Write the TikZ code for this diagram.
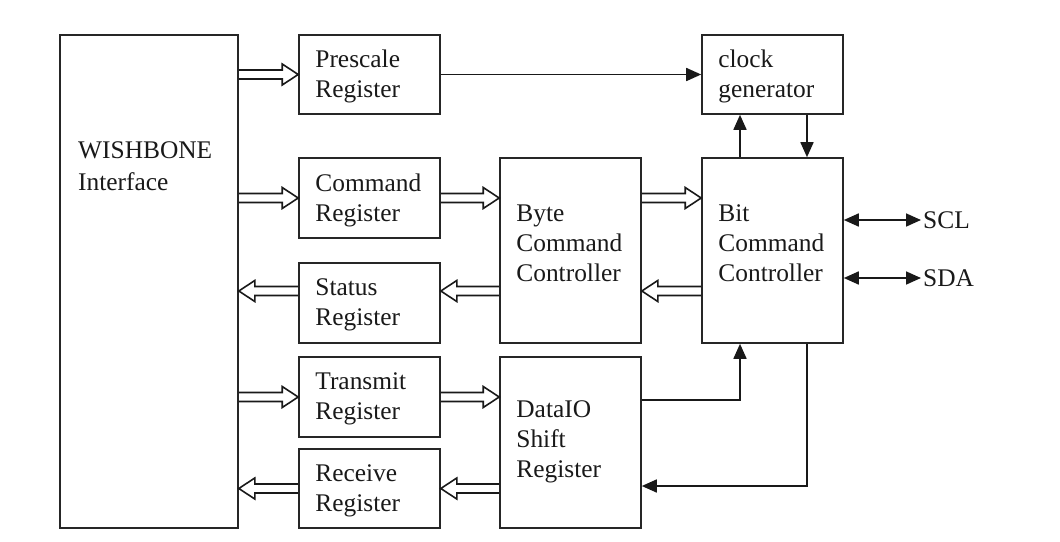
\documentclass[tikz,border=0pt]{standalone}
\usepackage{fontspec}
\setmainfont{Liberation Serif}
\usetikzlibrary{calc,arrows.meta}
\tikzset{
  box/.style={draw=black!85, line width=1.6pt, rectangle, inner sep=0pt, minimum width=141pt},
  txt/.style={anchor=west, inner sep=0pt, align=left, font=\fontsize{25.4}{30}\selectfont, text=black!90},
  arr/.style={draw=black!90, line width=1.7pt, -{Triangle[length=15pt,width=13pt]}},
  darr/.style={draw=black!90, line width=1.7pt, {Triangle[length=15pt,width=13pt]}-{Triangle[length=15pt,width=13pt]}},
  hol/.style={draw=black!90, line width=1.6pt, line join=miter}
}
\newcommand{\hollowarr}[2]{%
  \draw[hol] let \p1=#1, \p2=#2, \n1={sign(\x2-\x1)} in
    (\x1,{\y1+4.5pt}) -- ({\x2-\n1*16pt},{\y1+4.5pt}) -- ({\x2-\n1*16pt},{\y1+10.5pt})
    -- (\x2,\y1) -- ({\x2-\n1*16pt},{\y1-10.5pt}) -- ({\x2-\n1*16pt},{\y1-4.5pt}) -- (\x1,{\y1-4.5pt});}
\begin{document}
\begin{tikzpicture}[x=1pt,y=-1pt]
\useasboundingbox (0,0) rectangle (1060,541);
% boxes
\node[box, minimum width=178pt, minimum height=493pt] (wb) at (149,281.5) {};
\node[box, minimum height=79pt] (pre) at (369.5,74.5) {};
\node[box, minimum height=80pt] (cmd) at (369.5,198) {};
\node[box, minimum height=80pt] (sta) at (369.5,303) {};
\node[box, minimum height=80pt] (tra) at (369.5,397) {};
\node[box, minimum height=79pt] (rec) at (369.5,488.5) {};
\node[box, minimum height=185pt] (byte) at (570.5,250.5) {};
\node[box, minimum height=171pt] (dio) at (570.5,442.5) {};
\node[box, minimum height=79pt] (clk) at (772.5,74.5) {};
\node[box, minimum height=185pt] (bit) at (772.5,250.5) {};
% texts
\node[txt, font=\fontsize{25.4}{32}\selectfont] (wbt) at (78,166) {WISHBONE\\Interface};
\node[txt] (pret) at ($(pre.west)+(17,2)$) {Prescale\\Register};
\node[txt] (cmdt) at ($(cmd.west)+(17,2)$) {Command\\Register};
\node[txt] (stat) at ($(sta.west)+(17,2)$) {Status\\Register};
\node[txt] (trat) at ($(tra.west)+(17,2)$) {Transmit\\Register};
\node[txt] (rect) at ($(rec.west)+(17,2)$) {Receive\\Register};
\node[txt] (bytet) at ($(byte.west)+(17,-7)$) {Byte\\Command\\Controller};
\node[txt] (diot) at ($(dio.west)+(17,-1)$) {DataIO\\Shift\\Register};
\node[txt] (clkt) at ($(clk.west)+(17,2)$) {clock\\generator};
\node[txt] (bitt) at ($(bit.west)+(17,-7)$) {Bit\\Command\\Controller};
\node[txt, inner sep=2pt] (scl) at (921,220) {SCL};
\node[txt, inner sep=2pt] (sda) at (921,278) {SDA};
% helper coordinates
\coordinate (s) at ($(sta.west)+(0,-12)$);
% hollow bus arrows
\hollowarr{(wb.east|-pre)}{(pre.west)}
\hollowarr{(wb.east|-cmd)}{(cmd.west)}
\hollowarr{(s)}{(wb.east|-s)}
\hollowarr{(wb.east|-tra)}{(tra.west)}
\hollowarr{(rec.west)}{(wb.east|-rec)}
\hollowarr{(cmd.east)}{(byte.west|-cmd)}
\hollowarr{(byte.west|-s)}{(sta.east|-s)}
\hollowarr{(tra.east)}{(dio.west|-tra)}
\hollowarr{(dio.west|-rec)}{(rec.east)}
\hollowarr{(byte.east|-cmd)}{(bit.west|-cmd)}
\hollowarr{(bit.west|-s)}{(byte.east|-s)}
% single arrows
\draw[arr] (pre.east) -- (clk.west|-pre.east);
\draw[arr] ($(bit.north)+(-32.5,0)$) -- ($(clk.south)+(-32.5,0)$);
\draw[arr] ($(clk.south)+(34.5,0)$) -- ($(bit.north)+(34.5,0)$);
\draw[arr] ($(dio.east)+(0,-42.5)$) -| ($(bit.south)+(-32.5,0)$);
\draw[arr] ($(bit.south)+(34.5,0)$) |- ($(dio.east)+(0,43.5)$);
\draw[darr] (bit.east|-scl) -- (scl.west);
\draw[darr] (bit.east|-sda) -- (sda.west);
\end{tikzpicture}
\end{document}
